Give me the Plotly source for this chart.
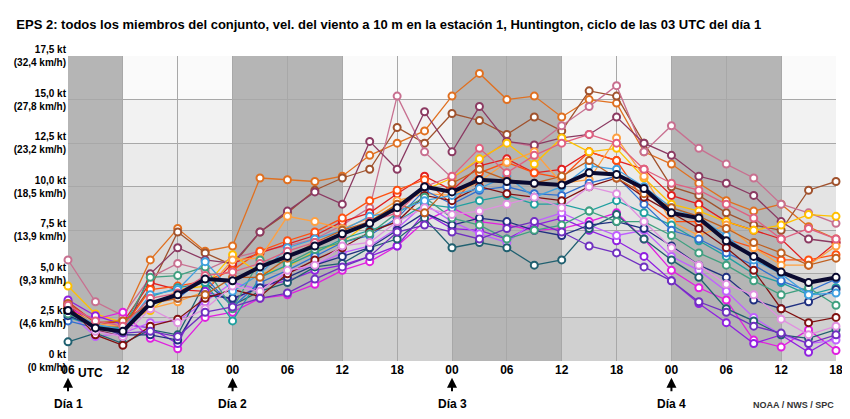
import plotly.graph_objects as go

# forecast hours from 06 UTC day 1, every 3 h
hours = list(range(0, 85, 3))

members = {
    '#e07020': [3.2,2.0,2.4,5.8,7.6,6.3,6.6,10.5,10.4,10.3,10.6,11.8,12.5,13.2,15.2,16.5,15.0,15.2,14.0,15.0,14.8,12.0,11.3,10.2,9.2,8.6,9.0,7.7,7.0],
    '#a0522d': [3.0,1.8,2.0,4.2,7.4,6.2,5.5,7.4,8.5,9.8,10.5,11.0,13.4,12.5,14.2,13.8,13.0,14.0,13.2,15.5,15.2,12.5,10.0,9.5,8.5,7.8,7.5,9.8,10.3],
    '#c87090': [5.8,3.4,2.6,4.8,5.6,5.2,5.9,6.3,6.6,7.0,7.8,8.8,15.2,12.0,10.5,11.5,12.6,12.3,13.5,14.6,15.8,12.0,13.5,12.2,11.3,10.5,9.0,8.5,7.9],
    '#8b3a62': [3.3,1.8,1.4,5.0,6.5,5.8,5.6,7.4,8.6,9.7,9.0,12.6,11.0,14.3,12.0,14.6,12.6,12.4,12.8,13.0,14.0,12.5,11.8,10.6,10.2,9.5,8.0,7.0,6.8],
    '#e02020': [3.4,2.2,2.2,4.5,4.1,4.0,5.6,6.2,6.7,7.2,8.0,8.5,9.6,10.6,9.8,11.2,11.6,10.8,11.0,12.0,11.5,11.0,9.5,9.0,8.0,7.5,7.0,5.5,6.8],
    '#ff5010': [3.1,2.0,1.9,4.1,4.3,4.6,5.2,6.3,6.9,7.4,8.2,9.2,9.8,10.4,9.0,10.8,11.4,10.8,10.5,12.0,11.5,9.2,8.0,8.0,7.0,6.5,5.8,5.8,6.1],
    '#ffc000': [4.3,2.7,2.2,2.9,4.1,4.3,6.1,5.0,5.4,6.3,6.8,8.0,9.0,9.8,10.5,11.6,12.5,11.3,12.8,12.0,12.2,10.5,9.0,8.6,8.0,7.5,7.8,8.4,8.3],
    '#ffa040': [3.0,2.1,2.0,3.0,3.4,4.0,5.8,5.9,8.3,8.0,7.6,8.2,9.2,9.6,9.5,10.3,11.4,12.0,10.2,10.4,12.8,10.6,8.0,7.2,7.8,6.5,5.5,5.5,6.6],
    '#e020e0': [3.0,2.4,2.8,1.3,0.7,2.5,2.8,3.6,3.8,4.4,5.2,5.7,6.6,8.0,8.8,8.0,7.8,7.5,7.6,8.0,8.5,7.0,5.2,4.2,3.5,1.2,0.8,1.8,0.6],
    '#9020e0': [3.5,2.6,2.1,1.9,1.0,4.0,3.5,4.3,4.6,5.2,5.5,6.0,6.6,8.5,7.6,7.5,7.0,7.8,8.2,7.5,6.9,6.0,4.6,3.3,2.2,1.0,1.5,0.5,1.4],
    '#c060ff': [2.8,1.4,1.6,2.2,2.3,3.4,4.5,4.1,5.1,5.5,6.2,6.6,7.6,9.0,8.0,7.3,6.8,8.0,8.5,7.8,7.2,7.5,6.0,5.2,4.0,2.5,1.5,1.0,1.2],
    '#206070': [1.1,1.6,1.0,1.8,1.5,4.5,3.2,4.0,4.5,5.4,5.6,6.5,7.0,8.2,6.5,6.8,6.5,5.5,5.8,7.6,8.4,7.0,5.8,4.8,3.0,2.3,1.5,1.3,1.8],
    '#20a0a0': [2.5,2.0,1.7,3.7,4.2,4.5,2.3,4.8,5.5,6.2,7.0,7.5,8.0,9.0,8.8,9.2,9.5,9.0,9.0,8.6,9.2,8.5,7.8,6.9,6.0,5.0,4.5,3.8,4.2],
    '#3070d0': [2.3,1.9,1.8,3.4,3.6,4.8,3.1,4.5,5.2,6.0,6.8,7.2,8.2,9.8,9.0,9.8,10.0,9.6,9.5,10.2,10.6,9.0,7.5,7.0,6.2,5.5,4.6,4.0,4.7],
    '#203080': [2.6,2.0,1.5,1.5,1.2,3.8,3.6,4.2,4.8,5.5,6.0,6.5,7.5,8.5,7.8,8.2,8.0,7.5,7.2,7.8,8.0,7.6,6.6,5.5,4.8,3.5,3.0,3.4,4.1],
    '#801010': [3.2,1.5,0.9,2.0,2.4,3.6,4.1,3.7,5.0,5.8,6.5,7.4,8.0,9.5,9.2,10.0,9.6,9.4,9.2,10.0,10.5,9.4,8.5,7.6,6.5,5.2,3.0,2.2,2.5],
    '#40a080': [2.7,2.0,1.9,4.8,4.9,5.4,3.0,5.8,5.6,6.4,6.8,7.3,8.5,9.4,8.2,7.8,7.0,7.5,7.8,8.6,8.0,8.0,7.2,6.2,5.5,4.6,3.8,4.2,3.2],
    '#40a0e0': [2.9,2.1,1.8,3.8,4.1,5.7,4.0,5.0,6.5,7.0,7.5,8.3,8.6,9.2,9.5,9.9,10.6,9.4,10.0,11.2,11.0,10.0,8.8,8.2,7.2,5.8,5.0,3.8,3.9],
    '#e090e0': [3.0,1.7,1.4,3.0,2.2,3.0,4.3,4.0,5.2,5.5,6.6,6.8,8.0,8.8,8.4,8.6,9.0,9.4,8.8,10.0,9.6,8.0,6.5,5.5,4.4,3.8,2.4,1.5,2.0],
    '#c06020': [3.3,2.2,2.3,3.3,3.6,3.8,4.8,4.8,5.9,6.8,7.5,8.0,9.0,8.5,10.2,11.0,10.4,10.2,10.6,11.5,10.5,9.6,8.8,8.3,7.6,6.8,6.2,5.5,5.9],
    '#7030c0': [2.9,1.9,1.6,1.7,1.4,2.8,3.1,3.6,3.9,4.7,5.4,6.0,7.4,7.8,7.4,7.0,7.6,8.0,7.4,6.6,6.2,5.4,4.6,3.4,2.8,2.0,1.6,1.0,1.5],
    '#e06080': [3.2,2.3,2.0,3.6,3.9,4.9,5.1,5.6,6.3,6.8,7.2,8.0,8.5,10.0,10.6,12.2,10.8,11.8,12.5,13.0,12.5,11.0,10.2,9.8,9.0,8.2,7.0,7.6,7.0],
}

mean = [2.9,1.9,1.7,3.3,3.8,4.7,4.6,5.4,6.0,6.6,7.3,7.9,8.8,10.0,9.7,10.4,10.3,10.2,10.1,10.8,10.7,9.9,8.5,8.2,6.9,6.0,5.1,4.5,4.8]

tick_hours = list(range(0, 85, 6))
tick_text = ['06','12','18','00','06','12','18','00','06','12','18','00','06','12','18']
kt_vals = [0, 2.5, 5, 7.5, 10, 12.5, 15, 17.5]
kt_text = ['0 kt<br>(0 km/h)','2,5 kt<br>(4,6 km/h)','5,0 kt<br>(9,3 km/h)','7,5 kt<br>(13,9 km/h)',
           '10,0 kt<br>(18,5 km/h)','12,5 kt<br>(23,2 km/h)','15,0 kt<br>(27,8 km/h)','17,5 kt<br>(32,4 km/h)']
day_hours = [0, 18, 42, 66]
day_labels = ['Día 1','Día 2','Día 3','Día 4']

fig = go.Figure()

for col, vals in members.items():
    fig.add_scatter(x=hours, y=vals, mode='lines+markers', line=dict(color=col, width=1.3),
                    marker=dict(size=7, color='white', line=dict(color=col, width=2)),
                    showlegend=False, hoverinfo='skip', cliponaxis=False)

fig.add_scatter(x=hours, y=mean, mode='lines+markers', line=dict(color='#0a0a30', width=4),
                marker=dict(size=7, color='white', line=dict(color='#0a0a30', width=2)),
                showlegend=False, cliponaxis=False)

# background: gradient-ish light strips, dark night bands
shapes = []
strips = ['#fafafa','#f2f2f2','#ebebeb','#e4e4e4','#dddddd','#d6d6d6','#d0d0d0']
n = len(strips)
for i, c in enumerate(strips):
    shapes.append(dict(type='rect', xref='x', yref='y', x0=0, x1=84,
                       y0=17.5 - (i + 1) * 17.5 / n, y1=17.5 - i * 17.5 / n,
                       fillcolor=c, line_width=0, layer='below'))
for a, b in [(0, 6), (18, 30), (42, 54), (66, 78)]:
    shapes.append(dict(type='rect', xref='x', yref='y', x0=a, x1=b, y0=0, y1=17.5,
                       fillcolor='#b5b5b5', line_width=0, layer='below'))

ann = [dict(x=0.9, y=0, xref='x', yref='paper', yshift=-3, text='<b>UTC</b>', showarrow=False,
            xanchor='left', yanchor='top', font=dict(size=12, color='black'))]
for h, lab in zip(day_hours, day_labels):
    ann.append(dict(x=h, y=-0.055, xref='x', yref='paper', text='', showarrow=True,
                    ax=0, ay=15, arrowhead=2, arrowsize=1, arrowwidth=2, arrowcolor='black'))
    ann.append(dict(x=h, y=-0.11, xref='x', yref='paper', text='<b>' + lab + '</b>', showarrow=False,
                    font=dict(size=12, color='black'), yanchor='top'))
ann.append(dict(x=1, y=-0.12, xref='paper', yref='paper', text='<b>NOAA / NWS / SPC</b>', showarrow=False,
                xanchor='right', yanchor='top', font=dict(size=9, color='#333')))

fig.update_layout(
    autosize=True,
    margin=dict(l=60, r=6, t=48, b=50, autoexpand=False),
    paper_bgcolor='white', plot_bgcolor='white',
    font=dict(family='Arial, Liberation Sans', color='black'),
    title=dict(text='<b>EPS 2: todos los miembros del conjunto, vel. del viento a 10 m en la estación 1, Huntington, ciclo de las 03 UTC del día 1</b>',
               x=0.01, xanchor='left', y=0.97, font=dict(size=13)),
    shapes=shapes, annotations=ann,
    xaxis=dict(range=[0, 84], tickvals=tick_hours, ticktext=['<b>' + t + '</b>' for t in tick_text],
               showgrid=True, gridcolor='#a8a8a8', gridwidth=1, zeroline=False,
               tickfont=dict(size=12), ticks='', fixedrange=True, automargin=False,
               ticklabeloverflow='allow'),
    yaxis=dict(range=[0, 17.5], tickvals=kt_vals, ticktext=['<b>' + t + '</b>' for t in kt_text],
               showgrid=True, gridcolor='#a8a8a8', gridwidth=1, zeroline=False,
               tickfont=dict(size=10), ticks='', ticklabelstandoff=1, fixedrange=True, automargin=False,
               ticklabeloverflow='allow'),
)

fig.write_html("out.html")
